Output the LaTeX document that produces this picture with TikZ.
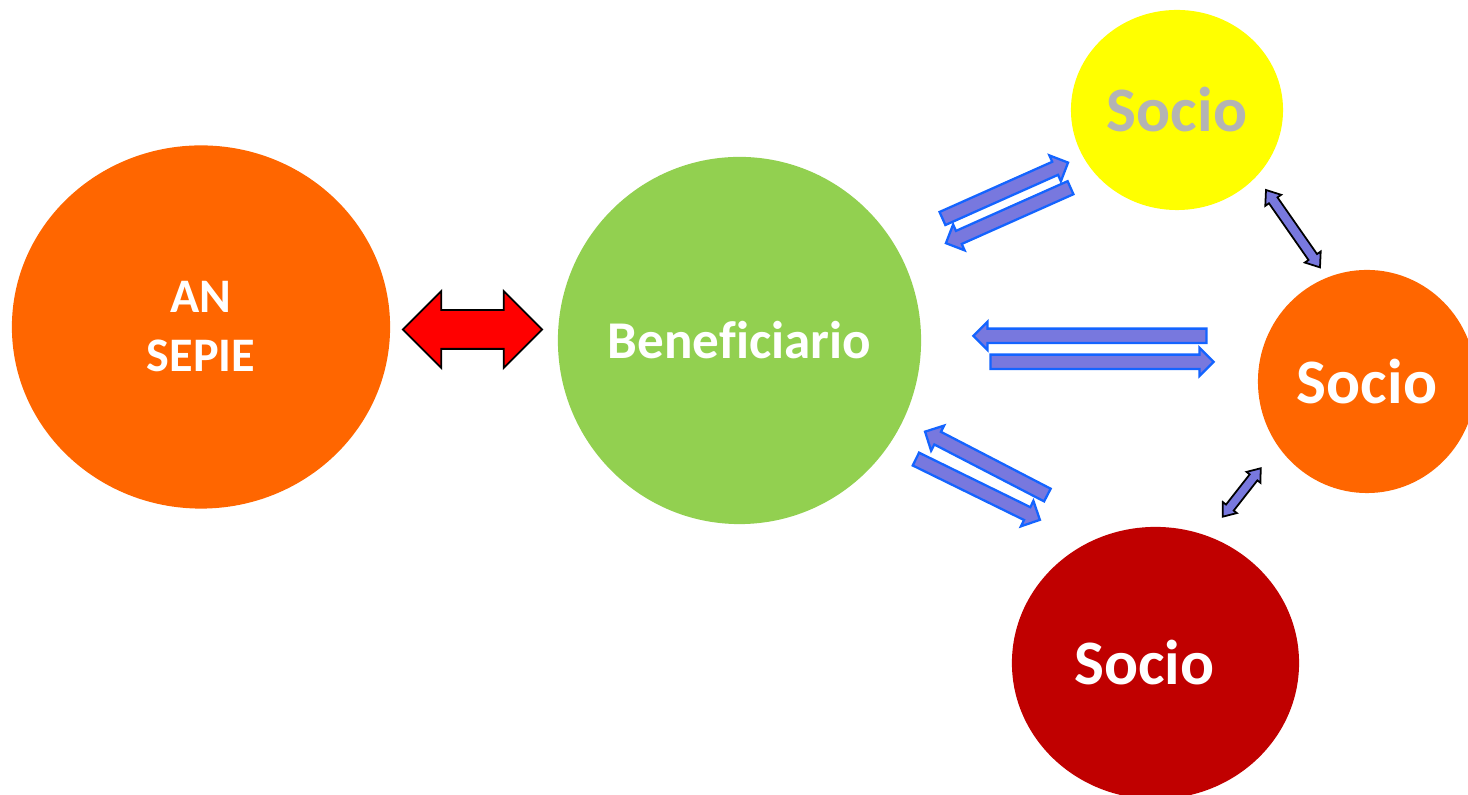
\documentclass[tikz,border=0pt]{standalone}
\usepackage{fontspec}
\setmainfont{Carlito}[Ligatures=NoCommon]
\usepackage{tikz}
\usetikzlibrary{positioning, shapes.geometric, shapes.arrows}
\definecolor{anorange}{RGB}{255,102,0}
\definecolor{bengreen}{RGB}{146,208,80}
\definecolor{socyellow}{RGB}{255,255,0}
\definecolor{socred}{RGB}{192,0,0}
\definecolor{socgray}{RGB}{180,180,180}
\definecolor{flowfill}{RGB}{120,120,222}
\definecolor{flowedge}{RGB}{20,100,255}

\begin{document}
\begin{tikzpicture}[
  x=0.01cm, y=-0.01cm,
  bubble/.style={ellipse, inner sep=0pt, text=white, font=\bfseries\fontsize{18}{21}\selectfont},
  flow/.style={single arrow, draw=flowedge, fill=flowfill, line width=0.65pt, inner xsep=0pt, inner ysep=0.06cm, minimum width=0pt, single arrow head extend=0.07cm},
  link/.style={double arrow, draw=black, fill=flowfill, line width=0.5pt, inner xsep=0pt, inner ysep=0.043cm, minimum width=0pt, double arrow head extend=0.045cm, double arrow tip angle=75},
]
  \useasboundingbox (0,0) rectangle (1468,795);
  \node[bubble, fill=anorange, minimum width=3.78cm, minimum height=3.63cm, font=\bfseries\fontsize{13.7}{17}\selectfont] (an) at (201,327) {\makebox[0pt]{\raisebox{-1.2pt}{\shortstack{AN\\[4.8pt]SEPIE}}}};
  \node[bubble, fill=bengreen, minimum width=3.63cm, minimum height=3.67cm, font=\bfseries\fontsize{15.1}{18}\selectfont] (ben) at (739.5,340.5) {\makebox[0pt]{Beneficiario}};
  \node[bubble, fill=socyellow, minimum width=2.12cm, minimum height=2.0cm, text=socgray] (soca) at (1177,110) {Socio};
  \node[bubble, fill=anorange, minimum width=2.18cm, minimum height=2.23cm] (socb) at (1367,381.5) {Socio};
  \node[bubble, fill=socred, minimum width=2.87cm, minimum height=2.72cm] (socc) at (1155.5,663) {Socio\hspace*{0.22cm}};

  \node[double arrow, draw=black, fill=red, line width=0.5pt, inner xsep=0pt, inner ysep=0.185cm, minimum width=0pt, minimum height=1.39cm, double arrow head extend=0.19cm] (main) at (472.5,329.5) {};

  \node[flow, minimum height=1.374cm, rotate=24] (fa1) at (1002,192) {};
  \node[flow, minimum height=1.363cm, rotate=204] (fa2) at (1011.5,214) {};
  \node[flow, minimum height=2.33cm, rotate=180] (fb1) at (1093.5,335.8) {};
  \node[flow, minimum height=2.23cm] (fb2) at (1098.5,361.8) {};
  \node[flow, minimum height=1.377cm, rotate=152.6] (fc1) at (989.4,465) {};
  \node[flow, minimum height=1.38cm, rotate=-26.1] (fc2) at (974.7,487.9) {};

  \node[link, minimum height=0.943cm, rotate=-55.1] (lab) at (1293,228.7) {};
  \node[link, minimum height=0.615cm, rotate=51.9, inner ysep=0.04cm, double arrow head extend=0.04cm] (lbc) at (1241.7,492.5) {};
\end{tikzpicture}
\end{document}
